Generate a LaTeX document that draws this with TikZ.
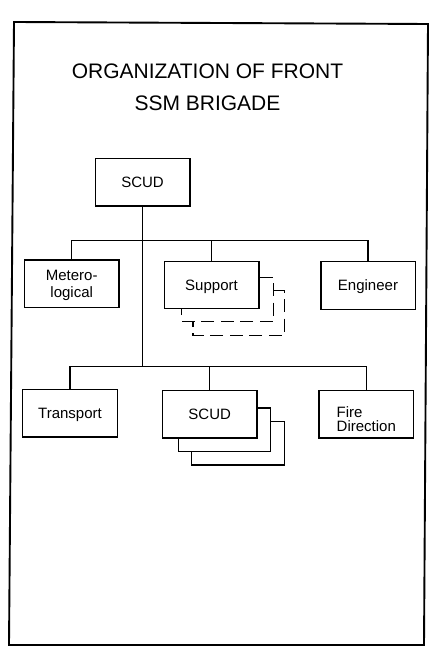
\documentclass[tikz,border=0pt]{standalone}
\usepackage{fontspec}
\setmainfont{Liberation Sans}
\usetikzlibrary{calc}
\tikzset{
  box/.style={draw, line width=1.5pt, inner sep=0pt, align=center,
    minimum width=94.5bp, minimum height=47.5bp,
    text height=10.7bp, text depth=0pt,
    font=\fontsize{15bp}{16.6bp}\selectfont},
  link/.style={line width=1.4pt},
  shadowline/.style={line width=1.4pt},
  dashshadow/.style={line width=1.4pt, dash pattern=on 13bp off 6.5bp},
  frame/.style={line width=1.9pt}
}
\begin{document}
\begin{tikzpicture}[x=1bp, y=-1bp]
\useasboundingbox (0,0) rectangle (436,648);
\fill[white] (0,0) rectangle (436,648);
% outer frame
\draw[frame] (14,22) -- (428,24) -- (424,645) -- (9,645) -- cycle;
% title
\node[align=center, font=\fontsize{21bp}{32bp}\selectfont] (title) at (207.5,87)
  {ORGANIZATION OF FRONT\\SSM BRIGADE};
% boxes
\node[box] (scud) at (142.5,182.2) {SCUD};
\node[box, text height=27.3bp] (met) at (71.7,283.7) {Metero-\\logical};
\node[box] (sup) at (211.5,285) {Support};
\node[box] (eng) at (368,285.5) {Engineer};
\node[box] (trn) at (70,413) {Transport};
\node[box] (sc2) at (209.7,414) {SCUD};
\node[box, align=left, font=\fontsize{15bp}{14.3bp}\selectfont,
  text height=34.2bp] (fir) at (366.3,414.2) {Fire\\Direction};
% junction levels
\coordinate (j1) at (141.7,240.7);
\coordinate (j2) at (141.7,366.7);
% connectors
\draw[link] (scud.south) -- (scud.south |- j2);
\draw[link] (met.north) -- (met.north |- j1) -- (eng.north |- j1) -- (eng.north);
\draw[link] (sup.north) -- (sup.north |- j1);
\draw[link] (trn.north) -- (trn.north |- j2) -- (fir.north |- j2) -- (fir.north);
\draw[link] (sc2.north) -- (sc2.north |- j2);
% dashed shadows of Support
\draw[dashshadow] ($(sup.north east)+(0,17)$) -- ($(sup.north east)+(14,17)$)
  -- ($(sup.south east)+(14,11.7)$) -- ($(sup.south west)+(17.7,11.7)$)
  -- ($(sup.south west)+(17.7,0)$);
\draw[dashshadow] ($(sup.north east)+(14,30)$) -- ($(sup.north east)+(25,30)$)
  -- ($(sup.south east)+(25,25.7)$) -- ($(sup.south west)+(29.3,25.7)$)
  -- ($(sup.south west)+(29.3,11.7)$);
% solid shadows of SCUD
\draw[shadowline] ($(sc2.north east)+(0,18.3)$) -- ($(sc2.north east)+(12.6,18.3)$)
  -- ($(sc2.south east)+(12.6,13.3)$) -- ($(sc2.south west)+(16.6,13.3)$)
  -- ($(sc2.south west)+(16.6,0)$);
\draw[shadowline] ($(sc2.north east)+(12.6,31.7)$) -- ($(sc2.north east)+(26.6,31.7)$)
  -- ($(sc2.south east)+(26.6,26.6)$) -- ($(sc2.south west)+(30,26.6)$)
  -- ($(sc2.south west)+(30,13.3)$);
\end{tikzpicture}
\end{document}
